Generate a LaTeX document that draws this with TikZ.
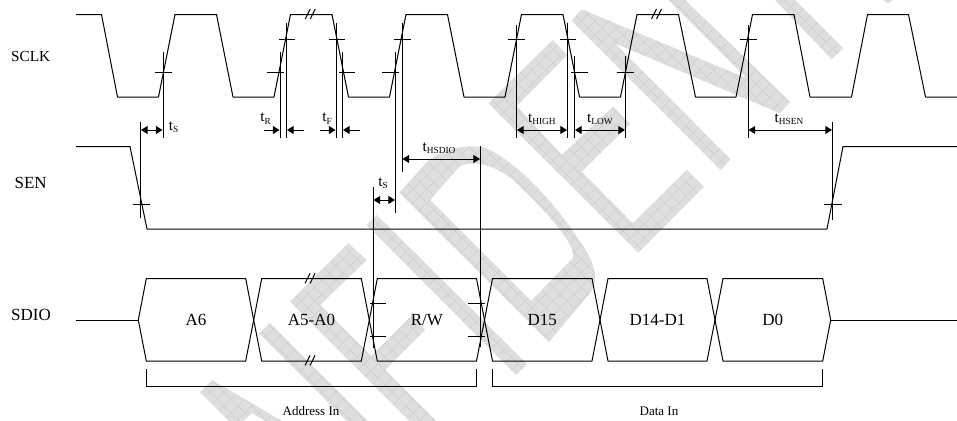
\documentclass[tikz,border=0pt]{standalone}
\usepackage{fontspec}
\setmainfont{Liberation Serif}
\usetikzlibrary{arrows.meta}
\definecolor{wmfill}{HTML}{DEDEDE}
\definecolor{wmgrid}{HTML}{D0D0D0}
\newcommand{\wmark}[1]{%
  \fill[wmfill,even odd rule] #1;
  \begin{scope}
    \clip #1;
    \foreach \i in {-434,-420,...,1400} {
      \draw[wmgrid,line width=0.4pt] (\i,0) -- (\i+421,421);
      \draw[wmgrid,line width=0.4pt] (\i,0) -- (\i-421,421);
    }
  \end{scope}
}
\newcommand{\tsig}[1]{{\fontsize{11.5}{13}\selectfont t}{\fontsize{7}{8}\selectfont\raisebox{-1.6pt}{#1}}}
\newcommand{\slashpair}[2]{%
  \draw[wave] (#1-5.3,#2+5) -- (#1-0.3,#2-5);
  \draw[wave] (#1-0.3,#2+5) -- (#1+4.7,#2-5);
}
\newcommand{\hcell}[4]{%
  \draw[wave,line join=miter] (#1,320) -- (#1+8,278.5) -- (#2-8,278.5) -- (#2,320) -- (#2-8,361) -- (#1+8,361) -- cycle;
  \node[biglabel] (#4) at ({(#1+#2)/2},320) {#3};
}
\tikzset{
  wave/.style={draw=black,line width=0.75pt,line join=round},
  tickmark/.style={draw=black,line width=0.75pt},
  meas/.style={draw=black,line width=0.75pt},
  dimline/.style={draw=black,line width=0.75pt,{Triangle[length=5pt,width=6pt]}-{Triangle[length=5pt,width=6pt]}},
  dimin/.style={draw=black,line width=0.75pt,-{Triangle[length=5pt,width=6pt]}},
  biglabel/.style={inner sep=0pt,font=\fontsize{12.75}{15}\selectfont},
  smalllabel/.style={inner sep=0pt,font=\fontsize{9.75}{12}\selectfont},
  tlabel/.style={inner sep=0pt}
}
\begin{document}
\begin{tikzpicture}[x=0.75pt,y=-0.75pt]
\useasboundingbox (0,0) rectangle (957,421);
\fill[white] (0,0) rectangle (957,421);
\clip (0,0) rectangle (957,421);

% watermark
\wmark{(212,380) -- (200,392) -- (229,421) -- (243,421) -- (252,413) -- (265,421) -- (282,421) -- cycle}
\wmark{(270,323) -- (259.3,333.3) -- (347,421) -- (368,421) -- cycle}
\wmark{(290,301.7) -- (348.3,243.3) -- (366.7,260) -- (320,305) -- (371.3,356.3) -- (411.7,316) -- (425,330) -- (385,370) -- (436,421) -- (409.3,421) -- cycle}
\wmark{(376.7,215) -- (366.7,225) -- (516,375) -- (527,364) -- cycle}
\wmark{(399.3,192.7) -- (428,161) .. controls (445,148) and (465,145) .. (482,147) .. controls (510,155) and (560,205) .. (590,258) .. controls (596,272) and (597,282) .. (590,293) -- (549,342) -- cycle
  (430,200) -- (531,301) -- (573,258) .. controls (577,245) and (545,210) .. (513,180) .. controls (495,165) and (475,160) .. (460,166) -- cycle}
\wmark{(552.7,40) -- (567.3,55) -- (516.7,106) -- (561.7,155) -- (613.3,106.7) -- (630,124) -- (581.7,171.7) -- (632.7,223.3) -- (686.7,170) -- (704,186.7) -- (638.3,252.7) -- (488.3,103.3) -- cycle}
\wmark{(581.7,9.3) -- (746.7,78.3) -- (668.3,0) -- (685,0) -- (790,101.7) -- (780,113.3) -- (615,43.3) -- (730.7,159.3) -- (720.7,170) -- (571.7,20.7) -- cycle}
\wmark{(775,0) -- (795,0) -- (843.3,48.3) -- (831.7,59.3) -- cycle}
\wmark{(883,0) -- (893,0) -- (888,3.5) -- cycle}

% signal labels
\node[biglabel,font=\fontsize{11.5}{14}\selectfont] (lsclk) at (30.7,56) {SCLK};
\node[biglabel] (lsen) at (30.7,183) {SEN};
\node[biglabel] (lsdio) at (31,315) {SDIO};

% SCLK
\draw[wave] (76,14.5) -- (101.5,14.5) -- (117.5,97) -- (158.5,97) -- (175,14.5) -- (216.5,14.5) -- (233,97) -- (274,97) -- (290.5,14.5) -- (332,14.5) -- (348.5,97) -- (389.5,97) -- (406,14.5) -- (447.5,14.5) -- (464,97) -- (505,97) -- (521.5,14.5) -- (563,14.5) -- (579.5,97) -- (620.5,97) -- (637,14.5) -- (678.5,14.5) -- (695.5,97) -- (736,97) -- (752.5,14.5) -- (794,14.5) -- (810,97) -- (851.5,97) -- (867.5,14.5) -- (908.5,14.5) -- (925.5,97) -- (957,97);
\slashpair{310.5}{14}
\slashpair{656.8}{14}

% SEN
\draw[wave] (76,146.5) -- (130,146.5) -- (147,229) -- (827,229) -- (843,146.5) -- (957,146.5);

% SDIO
\draw[wave] (76,320) -- (138.3,320);
\hcell{138.3}{253.7}{A6}{a6}
\hcell{253.7}{369.3}{A5-A0}{a5}
\hcell{369.3}{484.5}{R/W}{rw}
\hcell{484.5}{600}{D15}{d15}
\hcell{600}{715}{D14-D1}{d14}
\hcell{715}{830.7}{D0}{d0}
\draw[wave] (830.7,320) -- (957,320);
\slashpair{310.4}{278.3}
\slashpair{310.4}{360.3}

% brackets
\draw[wave,line join=miter] (146.5,369) -- (146.5,386) -- (476.5,386) -- (476.5,369);
\draw[wave,line join=miter] (492.5,369) -- (492.5,386) -- (822.5,386) -- (822.5,369);
\node[smalllabel] (laddr) at (311,411) {Address In};
\node[smalllabel] (ldata) at (659,411) {Data In};

% threshold ticks
\foreach \a/\b/\y in {154.5/171.5/72.5, 266.5/283.5/72.5, 278.5/295/39.5, 328.5/345/39.5, 338.5/355/72.5, 382/399/72.5, 393.5/410.5/39.5, 508/525/39.5, 559.5/576/39.5, 571/588/72.5, 616.5/634/72.5, 740/757/39.5, 132.5/149.5/204.5, 823.5/842/204.5, 369.5/385.5/303.5, 369.5/385.5/336.5, 467.5/484.5/303.5, 467.5/484.5/336.5}
  \draw[tickmark] (\a,\y) -- (\b,\y);

% measurement verticals
\foreach \x/\a/\b in {163/52/138, 140.5/122/218, 280/52/138, 286.5/23/138, 336/23/138, 342.5/52/138, 395.5/52/213, 402/23/172, 373/187/348, 480.5/146/347, 516.5/25/138, 567.5/23/138, 574.5/56/138, 625.5/56/138, 748/25/138, 832.5/122/220}
  \draw[meas] (\x,\a) -- (\x,\b);

% dimension arrows
\draw[dimline] (141,130) -- (162.5,130);
\draw[dimin] (264,130) -- (279.5,130);
\draw[dimin] (303.5,130) -- (287,130);
\draw[dimin] (320,130) -- (335.5,130);
\draw[dimin] (360,130) -- (343,130);
\draw[dimline] (402.5,159) -- (480,159);
\draw[dimline] (373.5,200) -- (395,200);
\draw[dimline] (517,130) -- (567,130);
\draw[dimline] (575,130) -- (625,130);
\draw[dimline] (748.5,130) -- (832,130);

% timing labels
\node[tlabel] (ts1) at (173.7,127) {\tsig{S}};
\node[tlabel] (tr) at (265.5,118.7) {\tsig{R}};
\node[tlabel] (tf) at (327,118.7) {\tsig{F}};
\node[tlabel] (ths) at (439,148) {\tsig{HSDIO}};
\node[tlabel] (ts2) at (383,183) {\tsig{S}};
\node[tlabel] (thigh) at (541.8,119) {\tsig{HIGH}};
\node[tlabel] (tlow) at (599.8,119) {\tsig{LOW}};
\node[tlabel] (thsen) at (789,119) {\tsig{HSEN}};
\end{tikzpicture}
\end{document}
